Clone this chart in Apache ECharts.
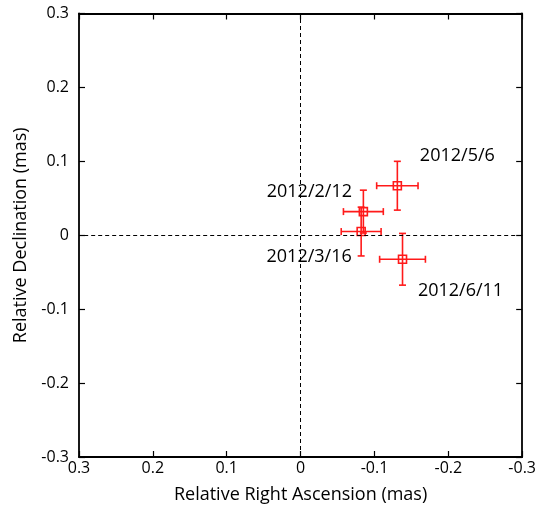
<!DOCTYPE html>
<html>
<head>
<meta charset="utf-8">
<script src="https://cdn.jsdelivr.net/npm/echarts@6/dist/echarts.min.js"></script>
<style>
  html, body { margin: 0; padding: 0; background: #fff; }
  #chart { width: 539px; height: 511px; }
</style>
</head>
<body>
<div id="chart"></div>
<script>
// Epoch labels and relative positions (mas) with 1-sigma errors
const epochs = ['2012/2/12', '2012/3/16', '2012/5/6', '2012/6/11'];
const ra     = [-0.085, -0.082, -0.131, -0.138];
const dec    = [0.032, 0.005, 0.067, -0.0325];
const raErr  = [0.027, 0.027, 0.028, 0.031];
const decErr = [0.029, 0.033, 0.033, 0.035];

const FONT = 'Open Sans';
const RED = '#ff1a1a';
// pixel offsets of each date label from its point
const labelShift = [[-54, -20], [-52, 25], [60, -30], [58, 32]];

const points = epochs.map((e, i) => ({
  value: [ra[i], dec[i]],
  label: {
    show: true,
    formatter: e,
    position: 'inside',
    offset: labelShift[i],
    color: '#000',
    opacity: 1,
    textBorderWidth: 0,
    textBorderColor: 'transparent',
    fontFamily: FONT,
    fontSize: 18
  }
}));
const bars = epochs.map((e, i) => [ra[i], dec[i], raErr[i], decErr[i]]);

function tickLabel(margin) {
  return {
    color: '#000', fontFamily: FONT, fontSize: 16, margin: margin,
    formatter: v => (Math.abs(v) < 1e-9 ? '0' : String(Math.round(v * 10) / 10))
  };
}

function axisBase(extra) {
  return Object.assign({
    type: 'value',
    min: -0.3,
    max: 0.3,
    interval: 0.1,
    splitLine: { show: false },
    axisLine: { show: true, onZero: false, lineStyle: { color: '#000', width: 1.8 } },
    axisTick: { show: true, inside: true, length: 6, lineStyle: { color: '#000', width: 1.2 } },
    axisLabel: { show: false },
    nameTextStyle: { color: '#000', fontFamily: FONT, fontSize: 18 }
  }, extra);
}

const chart = echarts.init(document.getElementById('chart'), null, { renderer: 'canvas' });
chart.setOption({
  animation: false,
  backgroundColor: '#fff',
  grid: { left: 79, right: 15.5, top: 13.5, bottom: 54, containLabel: false },
  xAxis: [
    axisBase({
      position: 'bottom', inverse: true,
      name: 'Relative Right Ascension (mas)', nameLocation: 'middle', nameGap: 29,
      axisLabel: tickLabel(3)
    }),
    axisBase({ position: 'top', inverse: true })
  ],
  yAxis: [
    axisBase({
      position: 'left',
      name: 'Relative Declination (mas)', nameLocation: 'middle', nameGap: 49,
      axisLabel: tickLabel(10)
    }),
    axisBase({ position: 'right' })
  ],
  series: [
    {
      type: 'custom',
      xAxisIndex: 0, yAxisIndex: 0,
      data: bars,
      z: 3,
      renderItem: function (params, api) {
        const x = api.value(0), y = api.value(1), ex = api.value(2), ey = api.value(3);
        const l = api.coord([x + ex, y]), r = api.coord([x - ex, y]);
        const t = api.coord([x, y + ey]), b = api.coord([x, y - ey]);
        const c = 3.5;
        const style = { stroke: RED, lineWidth: 1.6 };
        const line = (x1, y1, x2, y2) => ({ type: 'line', shape: { x1, y1, x2, y2 }, style });
        return {
          type: 'group',
          children: [
            line(l[0], l[1], r[0], r[1]),
            line(l[0], l[1] - c, l[0], l[1] + c),
            line(r[0], r[1] - c, r[0], r[1] + c),
            line(t[0], t[1], b[0], b[1]),
            line(t[0] - c, t[1], t[0] + c, t[1]),
            line(b[0] - c, b[1], b[0] + c, b[1])
          ]
        };
      }
    },
    {
      type: 'scatter',
      xAxisIndex: 0, yAxisIndex: 0,
      symbol: 'rect',
      symbolSize: 8,
      z: 4,
      itemStyle: { color: 'rgba(255,255,255,0)', borderColor: RED, borderWidth: 1.6, opacity: 1 },
      data: points,
      markLine: {
        silent: true,
        symbol: 'none',
        label: { show: false },
        lineStyle: { color: '#000', type: [4, 3], width: 1 },
        data: [{ xAxis: 0 }, { yAxis: 0 }]
      }
    }
  ]
});
</script>
</body>
</html>
